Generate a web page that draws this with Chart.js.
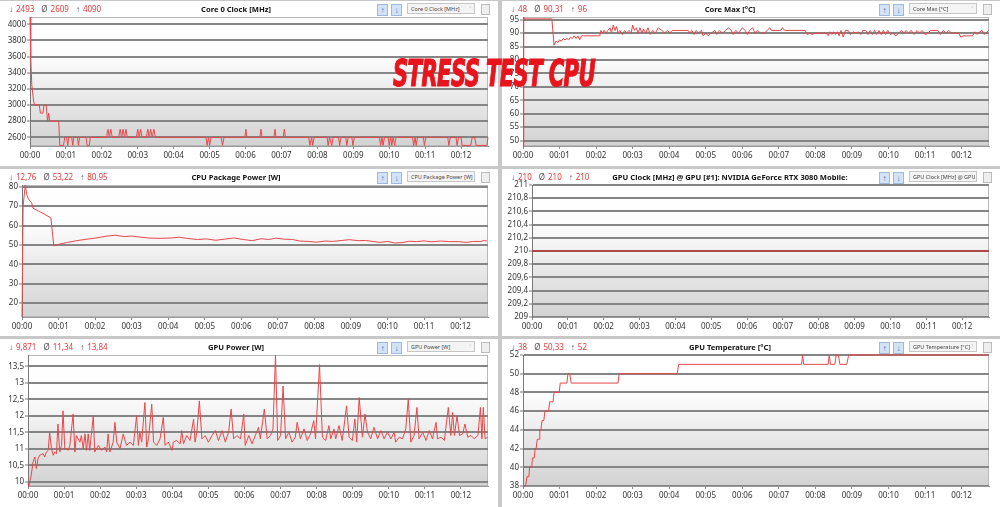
<!DOCTYPE html>
<html>
<head>
<meta charset="utf-8">
<script src="https://cdn.jsdelivr.net/npm/chart.js@4.4.0/dist/chart.umd.min.js"></script>
<style>
  body { margin: 0; width: 1000px; height: 507px; overflow: hidden; position: relative; background: #c8c8c8; font-family: "Noto Sans", "Open Sans", sans-serif; }
  .panel { position: absolute; background: #fff; overflow: hidden; }
  .panel canvas { position: absolute; left: 0; top: 0; }
  .hdr { position: absolute; left: 0; top: 0; right: 0; height: 16px; font-size: 8px; line-height: 16px; z-index: 2; }
  .stats { position: absolute; left: 9px; top: 0; display: flex; gap: 7px; white-space: nowrap; }
  .stats span { color: #e5393c; }
  .stats i { font-style: normal; color: #555; margin-right: 3px; }
  .ttl { position: absolute; top: 0; transform: translateX(-50%); font-weight: bold; font-size: 7.6px; color: #111; white-space: nowrap; }
  .ico { position: absolute; top: 3px; width: 9px; height: 10px; background: #d3e3f6; border: 1px solid #9db9dd; color: #2f73c9; font-size: 8px; line-height: 10px; text-align: center; font-weight: bold; }
  .dd { position: absolute; top: 2px; left: 407px; width: 68px; height: 11px; border: 1px solid #c6c6c6; background: #f4f4f4; font-size: 5.5px; line-height: 11px; color: #444; padding-left: 3px; box-sizing: border-box; white-space: nowrap; overflow: hidden; }
  .dd b { position: absolute; right: 3px; top: 0; font-weight: normal; color: #777; }
  .sq { position: absolute; top: 3px; left: 481px; width: 7px; height: 9px; border: 1px solid #bbb; background: #eee; }
  #stamp { position: absolute; left: 393px; top: 55px; font-family: "DejaVu Sans Condensed", "DejaVu Sans", sans-serif; font-weight: bold; font-style: italic; font-size: 37px; line-height: 37px; color: #e8141c; -webkit-text-stroke: 1.2px #e8141c; white-space: nowrap; transform-origin: 0 0; z-index: 5; letter-spacing: -1px; }
</style>
</head>
<body>
<div id="stamp">STRESS TEST CPU</div>
<script>
// time axis (minutes)
const timeTicks = [0, 1, 2, 3, 4, 5, 6, 7, 8, 9, 10, 11, 12];
const timeLabels = ['00:00', '00:01', '00:02', '00:03', '00:04', '00:05', '00:06', '00:07', '00:08', '00:09', '00:10', '00:11', '00:12'];
const timeEnd = 12.75;

// Core 0 Clock [MHz]
const clockStats = ['2493', '2609', '4090'];
const clockRange = [2493, 4090];
const clockTicks = [2600, 2800, 3000, 3200, 3400, 3600, 3800, 4000];
const clockPts = [[0,4090],[0.02,3600],[0.05,3250],[0.1,3050],[0.13,3000],[0.26,3000],[0.29,2900],[0.36,2900],[0.39,3000],[0.45,3000],[0.49,2800],[0.52,2900],[0.55,2800],[0.8,2800],[0.83,2500],[0.93,2500],[0.97,2600],[1.02,2600],[1.05,2500],[1.08,2600],[1.16,2600],[1.19,2500],[1.22,2600],[1.32,2600],[1.35,2500],[1.38,2600],[1.56,2600],[1.59,2500],[1.65,2500],[1.68,2600],[2.13,2600],[2.17,2700],[2.21,2600],[2.25,2700],[2.29,2600],[2.47,2600],[2.51,2700],[2.55,2600],[2.59,2700],[2.63,2600],[2.67,2700],[2.71,2600],[2.96,2600],[3.0,2700],[3.04,2600],[3.08,2700],[3.12,2600],[3.24,2600],[3.28,2700],[3.32,2600],[3.36,2700],[3.4,2600],[3.45,2700],[3.49,2600],[4.9,2600],[4.93,2500],[4.97,2600],[5.0,2500],[5.04,2600],[5.32,2600],[5.36,2500],[5.4,2600],[5.98,2600],[6.01,2700],[6.04,2600],[6.4,2600],[6.43,2700],[6.46,2600],[6.79,2600],[6.82,2700],[6.85,2600],[7.05,2600],[7.08,2700],[7.11,2600],[7.76,2600],[7.79,2500],[7.84,2600],[7.87,2500],[7.91,2600],[8.27,2600],[8.3,2500],[8.34,2600],[8.4,2500],[8.44,2600],[8.59,2600],[8.62,2500],[8.66,2600],[8.79,2600],[8.82,2500],[8.86,2600],[8.96,2600],[8.99,2500],[9.03,2600],[9.73,2600],[9.76,2500],[9.8,2600],[9.83,2500],[9.87,2600],[9.97,2600],[10.0,2500],[10.04,2600],[10.07,2500],[10.11,2600],[10.15,2500],[10.19,2600],[10.65,2600],[10.68,2500],[10.72,2600],[10.75,2500],[10.79,2600],[10.95,2600],[10.98,2500],[11.02,2600],[11.63,2600],[11.66,2500],[11.7,2600],[11.86,2600],[11.89,2500],[11.93,2600],[12.0,2600],[12.03,2500],[12.27,2500],[12.31,2600],[12.38,2600],[12.42,2500],[12.72,2500],[12.75,2600]];

// Core Max [°C]
const coreMaxStats = ['48', '90,31', '96'];
const coreMaxRange = [48, 96];
const coreMaxTicks = [50, 55, 60, 65, 70, 75, 80, 85, 90, 95];
const coreMaxPts = [[0,48],[0.02,96],[0.05,95.3],[0.79,95.3],[0.85,85.5],[0.9,87],[0.95,86.5],[1.0,87.5],[1.05,87],[1.1,88],[1.15,87.5],[1.2,88],[1.25,87.5],[1.3,88.5],[1.35,88],[1.4,89],[1.45,88],[1.5,89],[1.55,87.5],[1.6,89],[1.65,89],[2.1,89],[2.13,91],[2.17,90],[2.22,91],[2.27,90],[2.32,91],[2.38,92],[2.42,90],[2.47,93],[2.52,91],[2.56,92.5],[2.6,90],[2.65,91],[2.72,89.5],[2.78,91],[2.83,90],[2.9,91],[2.96,90],[3.0,93],[3.05,91],[3.1,92],[3.15,90],[3.2,92],[3.25,90],[3.3,91.5],[3.36,90],[3.42,92],[3.48,89.5],[3.55,91],[3.62,90],[3.7,92],[3.8,91],[3.88,90],[3.95,91],[4.02,90],[4.08,91],[4.52,91],[4.56,90],[4.62,91],[4.68,89.5],[4.74,91],[4.8,90],[4.88,91],[4.93,89],[5.0,90],[5.07,89],[5.15,90],[5.25,91],[5.3,89.5],[5.38,91],[5.45,90],[5.55,91],[5.62,92],[5.7,91],[5.75,89.5],[5.82,91],[5.9,90],[6.0,92],[6.08,91],[6.14,89.5],[6.2,91],[6.28,92],[6.35,90],[6.42,91],[6.5,90],[6.6,90],[6.68,91],[6.75,92],[6.8,91],[7.05,91],[7.1,92],[7.16,91],[7.72,91],[7.78,89.5],[7.84,90],[7.92,89.5],[7.98,90],[8.3,90],[8.35,89],[8.4,90.5],[8.45,89.5],[8.5,90.5],[8.55,89.5],[8.6,90.5],[8.65,89],[8.7,91],[8.76,88.5],[8.82,91],[8.9,91],[8.96,89.5],[9.03,90.5],[9.1,90],[9.18,90.5],[9.24,89.5],[9.3,91],[9.38,91],[9.44,89.5],[9.5,91],[9.56,89.5],[9.62,91],[9.68,89.5],[9.74,91],[9.8,89.5],[9.86,91],[9.92,89.5],[9.98,91],[10.05,89.5],[10.12,90],[10.2,89],[10.28,90],[10.35,91],[10.42,90],[10.48,91],[10.55,90],[10.62,91],[10.7,89.5],[10.78,91],[10.85,90],[10.92,91],[11.0,89.5],[11.08,90],[11.15,91],[11.35,91],[11.42,89.5],[11.5,91],[11.58,90],[11.65,91],[11.72,90],[11.92,90],[11.98,88.5],[12.05,89],[12.3,89],[12.36,90.5],[12.42,89.5],[12.5,90.5],[12.56,91],[12.62,89.5],[12.7,90.5],[12.74,91]];

// CPU Package Power [W]
const pkgStats = ['12,76', '53,22', '80,95'];
const pkgRange = [12.76, 80.95];
const pkgTicks = [20, 30, 40, 50, 60, 70, 80];
const pkgPts = [[0,12.76],[0.03,70],[0.09,80.95],[0.13,76],[0.18,73.5],[0.26,72],[0.3,69],[0.45,67.5],[0.6,66],[0.79,64],[0.87,49.5],[0.95,50],[1.0,50.3],[1.25,51.3],[1.5,52.2],[1.75,52.9],[2.0,53.5],[2.3,54.5],[2.55,55],[2.8,54.3],[3.0,54.6],[3.2,54.1],[3.5,53.5],[3.8,53.4],[4.1,53.6],[4.3,54],[4.5,53.4],[4.8,52.8],[5.05,53.1],[5.3,52.4],[5.55,53],[5.8,53.6],[6.05,52.8],[6.3,52.2],[6.55,53.2],[6.75,52.8],[6.95,53.5],[7.15,53],[7.4,52.8],[7.6,52],[7.85,51.8],[8.05,51.4],[8.3,52],[8.5,51.8],[8.75,52.3],[8.95,52.7],[9.2,52.2],[9.4,52.3],[9.6,51.8],[9.8,51.3],[10.0,51.8],[10.2,51],[10.4,51.2],[10.6,51.9],[10.8,51.7],[11.0,52.1],[11.2,51.6],[11.45,52],[11.7,51.7],[11.95,51.7],[12.15,51.3],[12.35,51.8],[12.55,51.8],[12.65,52.3],[12.72,52]];

// GPU Clock [MHz]
const gpuClkStats = ['210', '210', '210'];
const gpuClkRange = [209, 211];
const gpuClkTicks = [209, 209.2, 209.4, 209.6, 209.8, 210, 210.2, 210.4, 210.6, 210.8, 211];
const gpuClkPts = [[0,210],[12.75,210]];

// GPU Power [W]
const gpuPwrStats = ['9,871', '11,34', '13,84'];
const gpuPwrRange = [9.871, 13.84];
const gpuPwrTicks = [10, 10.5, 11, 11.5, 12, 12.5, 13, 13.5];
const gpuPwrPts = [[0,9.95],[0.02,9.87],[0.09,10.2],[0.14,10.6],[0.19,10.75],[0.23,10.4],[0.28,10.7],[0.32,10.8],[0.42,10.85],[0.46,10.75],[0.51,10.9],[0.56,10.95],[0.6,11.5],[0.65,11.0],[0.7,10.8],[0.74,10.9],[0.79,10.85],[0.83,11.75],[0.88,10.9],[0.93,11.1],[0.97,12.15],[1.02,11.0],[1.07,11.0],[1.11,10.95],[1.16,11.1],[1.25,12.05],[1.3,10.9],[1.34,11.4],[1.44,11.2],[1.48,11.4],[1.53,11.0],[1.58,11.45],[1.62,10.95],[1.67,11.45],[1.71,10.95],[1.81,12.0],[1.85,10.9],[1.95,11.1],[2.04,10.95],[2.13,11.05],[2.18,10.9],[2.22,11.45],[2.27,10.9],[2.36,11.2],[2.41,11.8],[2.46,11.2],[2.55,11.0],[2.64,11.45],[2.73,11.1],[2.83,11.2],[2.92,11.1],[3.01,12.0],[3.06,11.1],[3.1,11.5],[3.15,11.2],[3.24,12.4],[3.29,11.05],[3.34,11.3],[3.43,12.35],[3.48,11.2],[3.57,11.1],[3.66,11.3],[3.75,11.95],[3.8,11.1],[3.89,11.2],[3.99,10.95],[4.03,11.2],[4.12,11.25],[4.22,11.15],[4.26,11.55],[4.31,11.15],[4.4,11.4],[4.49,11.25],[4.59,11.9],[4.63,11.2],[4.68,11.5],[4.75,12.45],[4.82,11.3],[4.91,11.4],[5.0,11.2],[5.1,11.4],[5.19,11.55],[5.28,11.25],[5.38,11.55],[5.47,11.2],[5.56,11.5],[5.63,12.2],[5.7,11.3],[5.79,11.4],[5.89,11.3],[5.98,12.05],[6.02,11.1],[6.12,11.4],[6.21,11.15],[6.3,11.4],[6.39,11.65],[6.44,11.3],[6.55,12.2],[6.63,11.3],[6.72,11.4],[6.79,11.6],[6.86,13.84],[6.92,11.25],[7.0,11.4],[7.07,12.9],[7.14,11.3],[7.23,11.5],[7.32,11.2],[7.41,11.35],[7.46,11.8],[7.55,11.3],[7.65,11.6],[7.74,11.25],[7.83,11.45],[7.92,11.85],[7.97,11.3],[8.08,13.55],[8.16,11.35],[8.25,11.25],[8.34,11.7],[8.39,11.3],[8.48,11.6],[8.53,11.3],[8.62,11.7],[8.71,11.25],[8.83,12.3],[8.9,11.35],[8.99,11.25],[9.06,11.9],[9.11,11.2],[9.18,12.55],[9.27,11.35],[9.34,12.05],[9.41,11.5],[9.5,11.3],[9.59,11.65],[9.69,11.3],[9.78,11.55],[9.87,11.3],[9.96,11.5],[10.06,11.3],[10.15,11.5],[10.19,11.2],[10.29,11.35],[10.38,11.3],[10.47,11.6],[10.54,12.5],[10.61,11.2],[10.7,11.4],[10.78,12.25],[10.84,11.3],[10.94,11.5],[11.03,11.25],[11.12,11.55],[11.21,11.3],[11.31,11.8],[11.35,11.3],[11.45,11.35],[11.54,11.25],[11.65,12.25],[11.72,11.4],[11.77,12.1],[11.82,11.4],[11.89,12.0],[11.96,11.4],[12.05,11.45],[12.11,11.75],[12.19,11.35],[12.28,11.4],[12.37,11.3],[12.47,11.4],[12.54,12.25],[12.58,11.3],[12.62,12.25],[12.67,11.3],[12.74,11.35]];

// GPU Temperature [°C]
const gpuTempStats = ['38', '50,33', '52'];
const gpuTempRange = [38, 52];
const gpuTempTicks = [38, 40, 42, 44, 46, 48, 50, 52];
const gpuTempPts = [[0,38],[0.07,38],[0.11,39],[0.16,39],[0.18,40],[0.24,40],[0.26,41],[0.31,41],[0.33,42],[0.36,42],[0.39,43],[0.44,43],[0.46,44],[0.49,44],[0.52,45],[0.57,45],[0.6,46],[0.7,46],[0.73,47],[0.82,47],[0.85,48],[0.99,48],[1.02,49],[1.2,49],[1.23,50],[1.28,50],[1.32,49],[2.6,49],[2.63,50],[4.22,50],[4.26,51],[7.62,51],[7.65,52],[7.68,51],[8.35,51],[8.38,52],[8.41,51],[8.53,51],[8.57,52],[8.63,52],[8.67,51],[8.86,51],[8.91,52],[12.75,52]];

// layout
const cols = [{ left: 0, w: 498, right: 10, ttl: 236 }, { left: 502, w: 498, right: 11, ttl: 228 }];
const rows = [{ top: 1, h: 165, bottom: 145 }, { top: 169, h: 167, bottom: 148 }, { top: 339, h: 168, bottom: 147 }];

const panels = [
  { col: 0, row: 0, yW: 30, title: 'Core 0 Clock [MHz]', drop: 'Core 0 Clock [MHz]', stats: clockStats, range: clockRange, ticks: clockTicks, pts: clockPts },
  { col: 1, row: 0, yW: 21, title: 'Core Max [°C]', drop: 'Core Max [°C]', stats: coreMaxStats, range: coreMaxRange, ticks: coreMaxTicks, pts: coreMaxPts },
  { col: 0, row: 1, yW: 22, title: 'CPU Package Power [W]', drop: 'CPU Package Power [W]', stats: pkgStats, range: pkgRange, ticks: pkgTicks, pts: pkgPts },
  { col: 1, row: 1, yW: 30, title: 'GPU Clock [MHz] @ GPU [#1]: NVIDIA GeForce RTX 3080 Mobile:', drop: 'GPU Clock [MHz] @ GPU', stats: gpuClkStats, range: gpuClkRange, ticks: gpuClkTicks, pts: gpuClkPts, color: '#b83434', width: 1.4 },
  { col: 0, row: 2, yW: 28, title: 'GPU Power [W]', drop: 'GPU Power [W]', stats: gpuPwrStats, range: gpuPwrRange, ticks: gpuPwrTicks, pts: gpuPwrPts },
  { col: 1, row: 2, yW: 21, title: 'GPU Temperature [°C]', drop: 'GPU Temperature [°C]', stats: gpuTempStats, range: gpuTempRange, ticks: gpuTempTicks, pts: gpuTempPts }
];

const plotBg = {
  id: 'plotBg',
  beforeDraw(chart) {
    const { ctx, chartArea: a } = chart;
    const g = ctx.createLinearGradient(0, a.top, 0, a.bottom);
    g.addColorStop(0, '#ffffff');
    g.addColorStop(0.3, '#fdfdfd');
    g.addColorStop(1, '#d2d2d2');
    ctx.save();
    ctx.fillStyle = g;
    ctx.fillRect(a.left, a.top, a.width, a.height);
    ctx.strokeStyle = '#b8b8b8';
    ctx.lineWidth = 1;
    ctx.strokeRect(a.left + 0.5, a.top + 0.5, a.width - 1, a.height - 1);
    ctx.restore();
  }
};

const comma = v => String(v).replace('.', ',');

panels.forEach(p => {
  const c = cols[p.col], r = rows[p.row];
  const div = document.createElement('div');
  div.className = 'panel';
  Object.assign(div.style, { left: c.left + 'px', top: r.top + 'px', width: c.w + 'px', height: r.h + 'px' });
  div.innerHTML =
    '<div class="hdr">' +
      '<div class="stats"><span><i>↓</i>' + p.stats[0] + '</span><span><i>Ø</i>' + p.stats[1] + '</span><span><i>↑</i>' + p.stats[2] + '</span></div>' +
      '<div class="ttl" style="left:' + c.ttl + 'px">' + p.title + '</div>' +
      '<div class="ico" style="left:377px">↑</div><div class="ico" style="left:391px">↓</div>' +
      '<div class="dd">' + p.drop + '<b>˅</b></div><div class="sq"></div>' +
    '</div>';
  const cv = document.createElement('canvas');
  cv.width = c.w; cv.height = r.h;
  cv.style.width = c.w + 'px'; cv.style.height = r.h + 'px';
  div.appendChild(cv);
  document.body.appendChild(div);

  new Chart(cv, {
    type: 'line',
    data: {
      datasets: [{
        data: p.pts.map(([x, y]) => ({ x, y })),
        borderColor: p.color || '#e8474a',
        borderWidth: p.width || 1,
        pointRadius: 0,
        tension: 0,
        fill: false,
        clip: 2
      }]
    },
    options: {
      responsive: false,
      animation: false,
      devicePixelRatio: 1,
      layout: { padding: { top: 16, right: c.right, left: 0, bottom: 0 } },
      plugins: { legend: { display: false }, tooltip: { enabled: false } },
      scales: {
        x: {
          type: 'linear',
          min: 0,
          max: timeEnd,
          afterBuildTicks: s => { s.ticks = timeTicks.map(v => ({ value: v })); },
          afterFit: s => { s.height = r.h - r.bottom; },
          ticks: { callback: (v, i) => timeLabels[i], color: '#333', font: { family: 'Noto Sans', size: 8 }, padding: 2, maxRotation: 0, autoSkip: false },
          grid: { drawOnChartArea: false, tickLength: 3, color: '#888' },
          border: { color: '#999' }
        },
        y: {
          min: p.range[0],
          max: p.range[1],
          afterBuildTicks: s => { s.ticks = p.ticks.map(v => ({ value: v })); },
          afterFit: s => { s.width = p.yW; },
          ticks: { callback: v => comma(v), color: '#333', font: { family: 'Noto Sans', size: 8 }, padding: 1, autoSkip: false },
          grid: { color: '#858585', lineWidth: 2, tickLength: 3, tickColor: '#777', tickWidth: 1 },
          border: { color: '#777', width: 1 }
        }
      }
    },
    plugins: [plotBg]
  });
});

// squeeze the overlay caption to its width in the screenshot
const stamp = document.getElementById('stamp');
const sw = stamp.getBoundingClientRect().width;
stamp.style.transform = 'scaleX(' + (202 / sw) + ')';
</script>
</body>
</html>
